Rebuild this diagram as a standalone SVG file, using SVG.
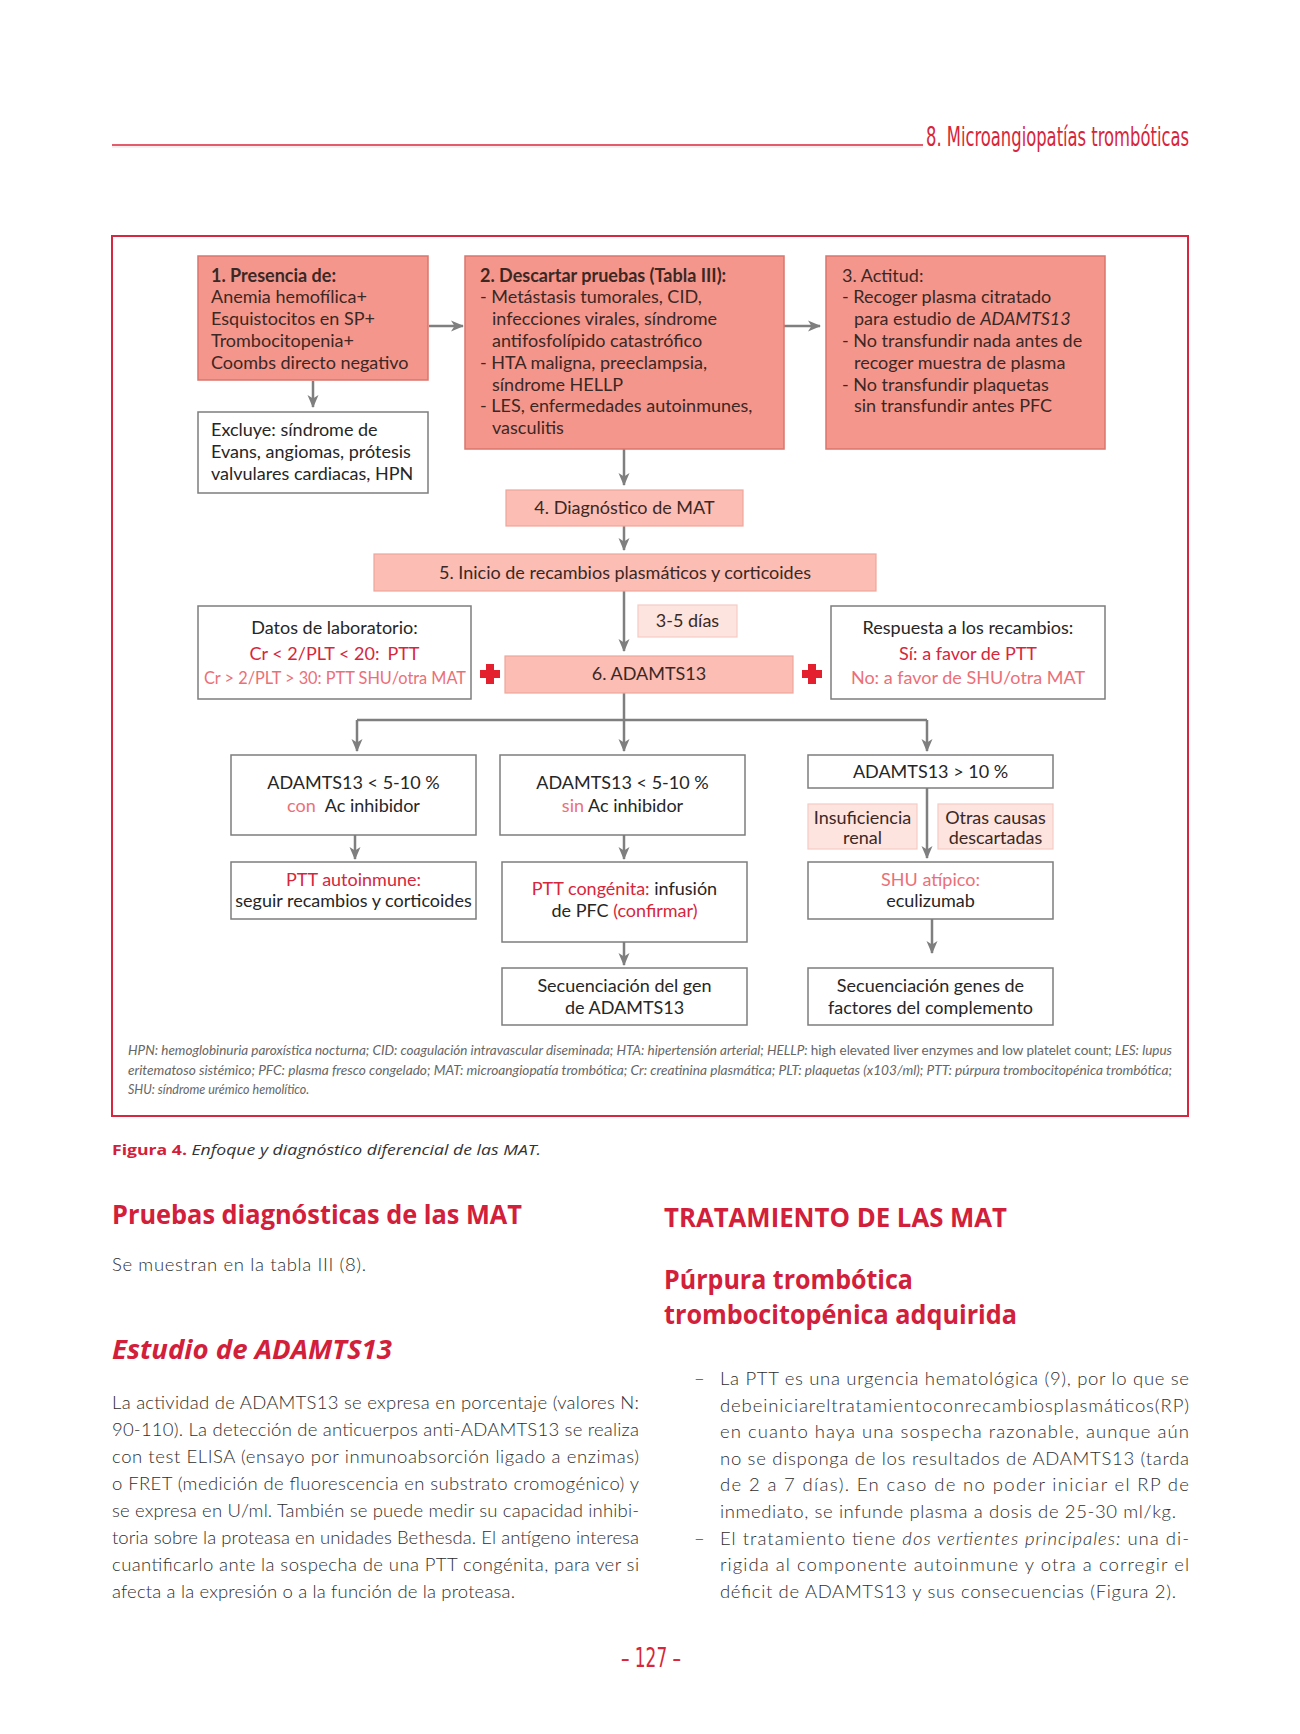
<svg xmlns="http://www.w3.org/2000/svg" width="1300" height="1734" viewBox="0 0 1300 1734">
<defs>
<marker id="ah" markerUnits="userSpaceOnUse" markerWidth="13" markerHeight="12" viewBox="0 0 13 12" refX="12" refY="6" orient="auto">
<path d="M0,0.5 L13,6 L0,11.5 L3.5,6 z" fill="#7f7f7f"/>
</marker>
<style>
.n1{fill:#f5968c;stroke:#d9766d;stroke-width:1.5}
.n2{fill:#fbbdb4;stroke:#f0a59b;stroke-width:1.2}
.n3{fill:#fde4df;stroke:#f6cbc3;stroke-width:1.2}
.w{fill:#fff;stroke:#7d7d7d;stroke-width:1.5}
.t{font-family:Lato,"Open Sans","DejaVu Sans",sans-serif;font-size:18px;fill:#3b2824}
.tw{fill:#262626}
.c{text-anchor:middle}
.b{font-weight:bold}
.i{font-style:italic}
.r{fill:#d7263b}
.p{fill:#ec6f78}
.conn path{fill:none;stroke:#7f7f7f;stroke-width:2.5}
.ar{marker-end:url(#ah)}
.plus{fill:#e5202e}
.hd{font-family:"Open Sans","Noto Sans",sans-serif;font-weight:bold;fill:#d2203b}
.body{font-family:Lato,"Open Sans",sans-serif;font-weight:300;font-size:18.5px;fill:#2e2e2e}
.fn{font-family:Lato,"Open Sans",sans-serif;font-style:italic;font-size:12.5px;fill:#666}
.cap{font-family:"Open Sans","Noto Sans",sans-serif;font-size:15px}
.cond{font-family:"Liberation Sans Narrow","DejaVu Sans Condensed","Liberation Sans",sans-serif;font-weight:normal;fill:#d7263b}
</style>
</defs>
<rect width="1300" height="1734" fill="#fff"/>

<g id="header">
<line x1="112" y1="145" x2="923" y2="145" stroke="#d9263a" stroke-width="1.3"/>
<line x1="112" y1="147" x2="923" y2="147" stroke="#f7d3d6" stroke-width="0.8"/>
<text class="cond" x="926" y="146" font-size="26" textLength="263" lengthAdjust="spacingAndGlyphs">8. Microangiopatías trombóticas</text>
</g>

<rect id="frame" x="112" y="236" width="1076" height="880" fill="none" stroke="#d7263d" stroke-width="2"/>

<g class="conn">
<path class="ar" d="M429,326 H463"/>
<path class="ar" d="M784,326 H820"/>
<path class="ar" d="M313,381 V407"/>
<path class="ar" d="M624,449 V485"/>
<path class="ar" d="M624,526 V550"/>
<path class="ar" d="M624,591 V651"/>
<path class="ar" d="M624,693 V751"/>
<path d="M357,720 H927"/>
<path class="ar" d="M357,720 V751"/>
<path class="ar" d="M927,720 V751"/>
<path class="ar" d="M355,835 V859"/>
<path class="ar" d="M624,835 V859"/>
<path class="ar" d="M624,942 V965"/>
<path class="ar" d="M927,788 V858"/>
<path class="ar" d="M932,919 V953"/>
</g>

<g id="n1">
<rect class="n1" x="198" y="256" width="230" height="124"/>
<text class="t" x="211" y="281.5"><tspan class="b">1. Presencia de:</tspan><tspan x="211" dy="21.8">Anemia hemofílica+</tspan><tspan x="211" dy="21.8">Esquistocitos en SP+</tspan><tspan x="211" dy="21.8">Trombocitopenia+</tspan><tspan x="211" dy="21.8">Coombs directo negativo</tspan></text>
</g>

<g id="n2">
<rect class="n1" x="465" y="256" width="319" height="193"/>
<text class="t" x="480" y="281.5"><tspan class="b">2. Descartar pruebas (Tabla III):</tspan><tspan x="480" dy="21.8">- Metástasis tumorales, CID,</tspan><tspan x="492" dy="21.8">infecciones virales, síndrome</tspan><tspan x="492" dy="21.8">antifosfolípido catastrófico</tspan><tspan x="480" dy="21.8">- HTA maligna, preeclampsia,</tspan><tspan x="492" dy="21.8">síndrome HELLP</tspan><tspan x="480" dy="21.8">- LES, enfermedades autoinmunes,</tspan><tspan x="492" dy="21.8">vasculitis</tspan></text>
</g>

<g id="n3">
<rect class="n1" x="826" y="256" width="279" height="193"/>
<text class="t" x="842" y="281.5"><tspan>3. Actitud:</tspan><tspan x="842" dy="21.8">- Recoger plasma citratado</tspan><tspan x="854" dy="21.8">para estudio de <tspan class="i">ADAMTS13</tspan></tspan><tspan x="842" dy="21.8">- No transfundir nada antes de</tspan><tspan x="854" dy="21.8">recoger muestra de plasma</tspan><tspan x="842" dy="21.8">- No transfundir plaquetas</tspan><tspan x="854" dy="21.8">sin transfundir antes PFC</tspan></text>
</g>

<g id="excluye">
<rect class="w" x="198" y="412" width="230" height="81"/>
<text class="t tw" x="211" y="436"><tspan>Excluye: síndrome de</tspan><tspan x="211" dy="22">Evans, angiomas, prótesis</tspan><tspan x="211" dy="22">valvulares cardiacas, HPN</tspan></text>
</g>

<g id="n4">
<rect class="n2" x="506" y="490" width="237" height="36"/>
<text class="t c" x="624.5" y="514">4. Diagnóstico de MAT</text>
</g>

<g id="n5">
<rect class="n2" x="374" y="554" width="502" height="37"/>
<text class="t c" x="625" y="578.5">5. Inicio de recambios plasmáticos y corticoides</text>
</g>

<g id="dias">
<rect class="n3" x="638" y="605" width="99" height="32"/>
<text class="t c" x="687.5" y="627">3-5 días</text>
</g>

<g id="n6">
<rect class="n2" x="505" y="656" width="288" height="37"/>
<text class="t c" x="649" y="680">6. ADAMTS13</text>
</g>

<g id="datos">
<rect class="w" x="198" y="606" width="273" height="93"/>
<text class="t tw c" x="334.5" y="634">Datos de laboratorio:</text>
<text class="t c r" x="334.5" y="660">Cr &lt; 2/PLT &lt; 20:<tspan dx="8">PTT</tspan></text>
<text class="t p" x="204" y="684" font-size="15" textLength="262" lengthAdjust="spacingAndGlyphs">Cr &gt; 2/PLT &gt; 30: PTT SHU/otra MAT</text>
</g>

<g id="plus1"><path class="plus" d="M486,664 h8 v6 h6 v8 h-6 v6 h-8 v-6 h-6 v-8 h6 z"/></g>
<g id="plus2"><path class="plus" d="M808,664 h8 v6 h6 v8 h-6 v6 h-8 v-6 h-6 v-8 h6 z"/></g>

<g id="respuesta">
<rect class="w" x="831" y="606" width="274" height="93"/>
<text class="t tw c" x="968" y="634">Respuesta a los recambios:</text>
<text class="t c r" x="968" y="660">Sí: a favor de PTT</text>
<text class="t c p" x="968" y="684">No: a favor de SHU/otra MAT</text>
</g>

<g id="a1">
<rect class="w" x="231" y="755" width="245" height="80"/>
<text class="t tw c" x="353.5" y="789">ADAMTS13 &lt; 5-10 %</text>
<text class="t tw c" x="353.5" y="812"><tspan class="p">con</tspan><tspan dx="9">Ac inhibidor</tspan></text>
</g>

<g id="a2">
<rect class="w" x="500" y="755" width="245" height="80"/>
<text class="t tw c" x="622.5" y="789">ADAMTS13 &lt; 5-10 %</text>
<text class="t tw c" x="622.5" y="812"><tspan class="p">sin</tspan> Ac inhibidor</text>
</g>

<g id="a3">
<rect class="w" x="808" y="755" width="245" height="33"/>
<text class="t tw c" x="930.5" y="778">ADAMTS13 &gt; 10 %</text>
</g>

<g id="insuf">
<rect class="n3" x="808" y="804" width="109" height="45"/>
<text class="t c" x="862.5" y="824">Insuficiencia<tspan x="862.5" dy="20">renal</tspan></text>
</g>

<g id="otras">
<rect class="n3" x="938" y="804" width="115" height="45"/>
<text class="t c" x="995.5" y="824">Otras causas<tspan x="995.5" dy="20">descartadas</tspan></text>
</g>

<g id="b1">
<rect class="w" x="231" y="862" width="245" height="57"/>
<text class="t c r" x="353.5" y="886">PTT autoinmune:</text>
<text class="t tw c" x="353.5" y="907">seguir recambios y corticoides</text>
</g>

<g id="b2">
<rect class="w" x="502" y="862" width="245" height="80"/>
<text class="t tw c" x="624.5" y="895"><tspan class="r">PTT congénita:</tspan> infusión</text>
<text class="t tw c" x="624.5" y="917">de PFC <tspan class="r">(confirmar)</tspan></text>
</g>

<g id="b3">
<rect class="w" x="808" y="862" width="245" height="57"/>
<text class="t c p" x="930.5" y="886">SHU atípico:</text>
<text class="t tw c" x="930.5" y="907">eculizumab</text>
</g>

<g id="c2">
<rect class="w" x="502" y="968" width="245" height="57"/>
<text class="t tw c" x="624.5" y="992">Secuenciación del gen</text>
<text class="t tw c" x="624.5" y="1014">de ADAMTS13</text>
</g>

<g id="c3">
<rect class="w" x="808" y="968" width="245" height="57"/>
<text class="t tw c" x="930.5" y="992">Secuenciación genes de</text>
<text class="t tw c" x="930.5" y="1014">factores del complemento</text>
</g>

<g id="footnote">
<text class="fn" x="128" y="1055" textLength="1044" lengthAdjust="spacingAndGlyphs">HPN: hemoglobinuria paroxística nocturna; CID: coagulación intravascular diseminada; HTA: hipertensión arterial; HELLP: <tspan font-style="normal">high elevated liver enzymes and low platelet count; </tspan>LES: lupus</text>
<text class="fn" x="128" y="1075" textLength="1044" lengthAdjust="spacingAndGlyphs">eritematoso sistémico; PFC: plasma fresco congelado; MAT: microangiopatía trombótica; Cr: creatinina plasmática; PLT: plaquetas (x103/ml); PTT: púrpura trombocitopénica trombótica;</text>
<text class="fn" x="128" y="1094">SHU: síndrome urémico hemolítico.</text>
</g>

<g id="caption">
<text class="cap" x="112" y="1155" textLength="429" lengthAdjust="spacingAndGlyphs"><tspan font-weight="bold" fill="#d2203b">Figura 4.</tspan><tspan font-style="italic" fill="#333"> Enfoque y diagnóstico diferencial de las MAT.</tspan></text>
</g>

<g id="text-left">
<text class="hd" x="112" y="1224" font-size="27" textLength="410" lengthAdjust="spacingAndGlyphs">Pruebas diagnósticas de las MAT</text>
<text class="body" x="112" y="1271" textLength="254" lengthAdjust="spacing">Se muestran en la tabla III (8).</text>
<text class="hd" x="112" y="1359" font-size="27" font-style="italic" textLength="280" lengthAdjust="spacingAndGlyphs">Estudio de ADAMTS13</text>
<text class="body" x="112" y="1409" textLength="527" lengthAdjust="spacing">La actividad de ADAMTS13 se expresa en porcentaje (valores N:</text>
<text class="body" x="112" y="1436" textLength="527" lengthAdjust="spacing">90-110). La detección de anticuerpos anti-ADAMTS13 se realiza</text>
<text class="body" x="112" y="1463" textLength="527" lengthAdjust="spacing">con test ELISA (ensayo por inmunoabsorción ligado a enzimas)</text>
<text class="body" x="112" y="1490" textLength="527" lengthAdjust="spacing">o FRET (medición de fluorescencia en substrato cromogénico) y</text>
<text class="body" x="112" y="1517" textLength="527" lengthAdjust="spacing">se expresa en U/ml. También se puede medir su capacidad inhibi-</text>
<text class="body" x="112" y="1544" textLength="527" lengthAdjust="spacing">toria sobre la proteasa en unidades Bethesda. El antígeno interesa</text>
<text class="body" x="112" y="1571" textLength="527" lengthAdjust="spacing">cuantificarlo ante la sospecha de una PTT congénita, para ver si</text>
<text class="body" x="112" y="1598" textLength="403" lengthAdjust="spacing">afecta a la expresión o a la función de la proteasa.</text>
</g>

<g id="text-right">
<text class="hd" x="664" y="1227" font-size="27" textLength="343" lengthAdjust="spacingAndGlyphs">TRATAMIENTO DE LAS MAT</text>
<text class="hd" x="664" y="1289" font-size="27" textLength="249" lengthAdjust="spacingAndGlyphs">Púrpura trombótica</text>
<text class="hd" x="664" y="1324" font-size="27" textLength="353" lengthAdjust="spacingAndGlyphs">trombocitopénica adquirida</text>
<text class="body" x="694" y="1385" font-weight="normal">–</text>
<text class="body" x="720" y="1385" textLength="469" lengthAdjust="spacing">La PTT es una urgencia hematológica (9), por lo que se</text>
<text class="body" x="720" y="1411.6" textLength="469" lengthAdjust="spacing">debeiniciareltratamientoconrecambiosplasmáticos(RP)</text>
<text class="body" x="720" y="1438.2" textLength="469" lengthAdjust="spacing">en cuanto haya una sospecha razonable, aunque aún</text>
<text class="body" x="720" y="1464.8" textLength="469" lengthAdjust="spacing">no se disponga de los resultados de ADAMTS13 (tarda</text>
<text class="body" x="720" y="1491.4" textLength="469" lengthAdjust="spacing">de 2 a 7 días). En caso de no poder iniciar el RP de</text>
<text class="body" x="720" y="1518" textLength="456" lengthAdjust="spacing">inmediato, se infunde plasma a dosis de 25-30 ml/kg.</text>
<text class="body" x="694" y="1544.6" font-weight="normal">–</text>
<text class="body" x="720" y="1544.6" textLength="469" lengthAdjust="spacing">El tratamiento tiene <tspan font-style="italic">dos vertientes principales:</tspan> una di-</text>
<text class="body" x="720" y="1571.2" textLength="469" lengthAdjust="spacing">rigida al componente autoinmune y otra a corregir el</text>
<text class="body" x="720" y="1597.8" textLength="456" lengthAdjust="spacing">déficit de ADAMTS13 y sus consecuencias (Figura 2).</text>
</g>

<g id="page-number">
<text class="cond" x="621" y="1667" font-size="26" textLength="60" lengthAdjust="spacingAndGlyphs">– 127 –</text>
</g>
</svg>
